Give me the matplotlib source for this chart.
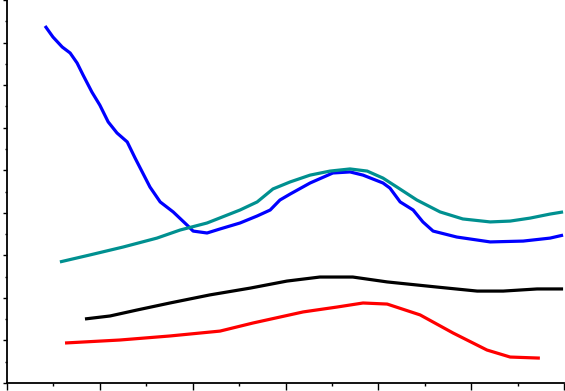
import matplotlib
matplotlib.use("Agg")
import matplotlib.pyplot as plt
from matplotlib.ticker import MultipleLocator

blue_x = [0.82, 0.99, 1.19, 1.36, 1.51, 1.64, 1.83, 2.00, 2.18, 2.37, 2.59, 2.76, 3.08, 3.30, 3.58, 3.88, 4.01, 4.31, 4.59, 5.02, 5.39, 5.67, 5.88, 6.10, 6.53, 7.02, 7.39, 7.67, 8.10, 8.25, 8.47, 8.75, 8.96, 9.18, 9.69, 10.41, 11.12, 11.70, 11.98]
blue_y = [16.78, 16.26, 15.79, 15.51, 15.04, 14.47, 13.67, 13.06, 12.27, 11.75, 11.33, 10.57, 9.21, 8.51, 8.04, 7.42, 7.14, 7.05, 7.24, 7.52, 7.85, 8.13, 8.60, 8.88, 9.40, 9.87, 9.92, 9.77, 9.40, 9.16, 8.51, 8.13, 7.57, 7.14, 6.86, 6.63, 6.67, 6.81, 6.95]

teal_x = [1.14, 1.79, 2.50, 3.23, 3.73, 4.31, 5.02, 5.39, 5.73, 6.10, 6.53, 6.96, 7.39, 7.76, 8.10, 8.40, 8.83, 9.33, 9.82, 10.41, 10.84, 11.27, 11.70, 11.98]
teal_y = [5.69, 6.02, 6.39, 6.81, 7.19, 7.52, 8.13, 8.51, 9.12, 9.45, 9.77, 9.96, 10.06, 9.96, 9.63, 9.21, 8.60, 8.04, 7.71, 7.57, 7.61, 7.75, 7.94, 8.04]

black_x = [1.68, 2.22, 2.80, 3.51, 4.37, 5.24, 6.03, 6.74, 7.45, 8.19, 9.26, 10.13, 10.69, 11.42, 11.98]
black_y = [3.01, 3.15, 3.43, 3.76, 4.14, 4.46, 4.79, 4.98, 4.98, 4.75, 4.51, 4.32, 4.32, 4.42, 4.42]

red_x = [1.25, 2.43, 3.51, 4.59, 5.30, 6.38, 7.11, 7.67, 8.19, 8.90, 9.61, 10.34, 10.84, 11.48]
red_y = [1.88, 2.02, 2.21, 2.44, 2.82, 3.34, 3.57, 3.76, 3.71, 3.20, 2.35, 1.55, 1.22, 1.17]

fig = plt.figure(figsize=(5.65, 3.91), dpi=100)
ax = fig.add_axes([7/565, 8/391, 557/565, 383/391])

lw = 2.3
ax.plot(blue_x, blue_y, color="#0000ff", lw=lw, solid_capstyle="butt")
ax.plot(teal_x, teal_y, color="#009090", lw=lw, solid_capstyle="butt")
ax.plot(black_x, black_y, color="#000000", lw=lw, solid_capstyle="butt")
ax.plot(red_x, red_y, color="#ff0000", lw=lw, solid_capstyle="butt")

ax.set_xlim(0, 12)
ax.set_ylim(0, 18)
ax.spines["top"].set_visible(False)
ax.spines["right"].set_visible(False)
ax.spines["left"].set_linewidth(1.3)
ax.spines["bottom"].set_linewidth(1.3)
ax.xaxis.set_major_locator(MultipleLocator(2))
ax.xaxis.set_minor_locator(MultipleLocator(1))
ax.yaxis.set_major_locator(MultipleLocator(2))
ax.yaxis.set_minor_locator(MultipleLocator(1))
ax.tick_params(axis="x", which="major", direction="out", length=5, width=1, labelbottom=False)
ax.tick_params(axis="x", which="minor", direction="out", length=2.5, width=1)
ax.tick_params(axis="y", which="major", direction="out", length=3, width=1, labelleft=False)
ax.tick_params(axis="y", which="minor", direction="out", length=1.5, width=1)

fig.savefig("out.png", dpi=100)
